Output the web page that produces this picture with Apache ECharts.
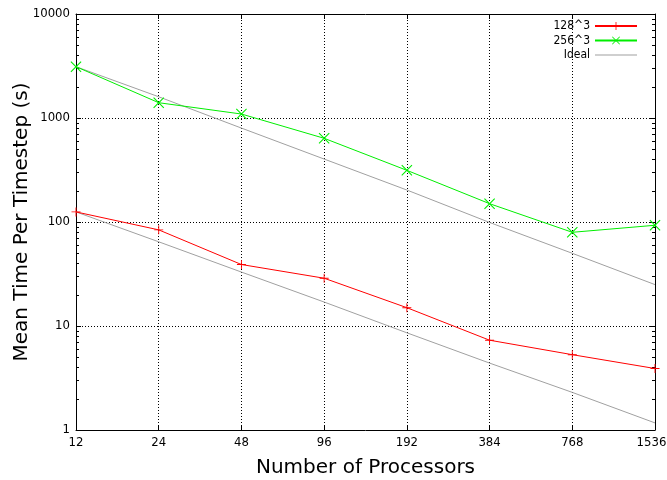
<!DOCTYPE html>
<html>
<head>
<meta charset="utf-8">
<script src="https://cdn.jsdelivr.net/npm/echarts@6/dist/echarts.min.js"></script>
<style>
  html, body { margin: 0; padding: 0; background: #fff; }
  #chart { width: 667px; height: 480px; }
</style>
</head>
<body>
<div id="chart"></div>
<script>
var processors = ['12', '24', '48', '96', '192', '384', '768', '1536'];
var time128 = [125, 84, 39, 28.8, 15, 7.3, 5.3, 3.9];
var time256 = [3115, 1403, 1092, 638, 314, 150, 79.6, 93];
var ideal256 = [3115, 1600, 800, 403, 203, 99, 50, 25];
var ideal128 = [125, 64.5, 33, 17, 8.6, 4.4, 2.3, 1.17];
var minorSteps = [2, 3, 4, 5, 6, 7, 8, 9];
var decades = [1, 10, 100, 1000];

var tickFont = "'DejaVu Sans Condensed', 'Liberation Sans Narrow', 'DejaVu Sans', sans-serif";
var titleFont = "'DejaVu Sans', sans-serif";

var plusPath = 'path://M4.5,0H5.5V4.5H10V5.5H5.5V10H4.5V5.5H0V4.5H4.5Z';
var crossPath = 'path://M0,0.7L0.7,0L5,4.3L9.3,0L10,0.7L5.7,5L10,9.3L9.3,10L5,5.7L0.7,10L0,9.3L4.3,5Z';
// thin bar; the two empty sub-paths only stretch the bounding box to the 42x10 legend icon
var flatPath = 'path://M0,0L0,0ZM42,10L42,10ZM0,4.5H42V5.5H0Z';

var chart = echarts.init(document.getElementById('chart'));

var axisLine = { show: true, lineStyle: { color: '#000', width: 1 } };
var gridLine = { show: true, interval: 0, lineStyle: { color: '#000', width: 1, type: [1, 2] } };

var option = {
  animation: false,
  grid: { left: 76, right: 12, top: 14, bottom: 50, outerBoundsMode: 'none', containLabel: false },
  legend: {
    data: [
      { name: '128^3' },
      { name: '256^3' },
      { name: 'Ideal', icon: flatPath, itemStyle: { color: '#a0a0a0', borderWidth: 0 }, lineStyle: { width: 0 } }
    ],
    orient: 'vertical',
    align: 'right',
    right: 29,
    top: 20,
    padding: 0,
    itemWidth: 42,
    itemHeight: 10,
    itemGap: 2.5,
    textStyle: { fontFamily: tickFont, fontSize: 12, lineHeight: 12, color: '#000' }
  },
  xAxis: [{
    type: 'category',
    data: processors,
    boundaryGap: false,
    name: 'Number of Processors',
    nameLocation: 'middle',
    nameGap: 28,
    nameMoveOverlap: false,
    nameTextStyle: { fontFamily: titleFont, fontSize: 20, color: '#000' },
    axisLine: axisLine,
    axisTick: { show: true, inside: true, length: 5, interval: 0, lineStyle: { color: '#000' } },
    axisLabel: {
      interval: 0,
      hideOverlap: false,
      fontFamily: tickFont, fontSize: 13, color: '#000', margin: 6,
      formatter: function (v, i) { return i === processors.length - 1 ? '{last|' + v + '}' : v; },
      rich: { last: { fontFamily: tickFont, fontSize: 13, color: '#000', padding: [0, 7, 0, 0] } }
    },
    splitLine: gridLine
  }, {
    type: 'category',
    data: processors,
    boundaryGap: false,
    position: 'top',
    axisLine: axisLine,
    axisTick: { show: true, inside: true, length: 5, interval: 0, lineStyle: { color: '#000' } },
    axisLabel: { show: false },
    splitLine: { show: false }
  }],
  yAxis: [{
    type: 'log',
    logBase: 10,
    min: 1,
    max: 10000,
    name: 'Mean Time Per Timestep (s)',
    nameLocation: 'middle',
    nameGap: 44,
    nameMoveOverlap: false,
    nameTextStyle: { fontFamily: titleFont, fontSize: 20, color: '#000' },
    axisLine: axisLine,
    axisTick: { show: true, inside: true, length: 5, lineStyle: { color: '#000' } },
    axisLabel: {
      fontFamily: tickFont, fontSize: 13, color: '#000', margin: 6,
      formatter: function (v) { return String(Math.round(v)); }
    },
    splitLine: gridLine
  }, {
    type: 'log',
    logBase: 10,
    min: 1,
    max: 10000,
    position: 'right',
    axisLine: axisLine,
    axisTick: { show: true, inside: true, length: 5, lineStyle: { color: '#000' } },
    axisLabel: { show: false },
    splitLine: { show: false }
  }],
  series: [{
    name: '128^3',
    type: 'line',
    data: time128,
    symbol: plusPath,
    symbolSize: 9,
    showAllSymbol: true,
    itemStyle: { color: '#ff0000' },
    lineStyle: { color: '#ff0000', width: 1 },
    z: 3
  }, {
    name: '256^3',
    type: 'line',
    data: time256,
    symbol: crossPath,
    symbolSize: 11,
    showAllSymbol: true,
    itemStyle: { color: '#00ee00' },
    lineStyle: { color: '#00ee00', width: 1 },
    z: 3
  }, {
    name: 'Ideal',
    type: 'line',
    data: ideal256,
    symbol: 'none',
    itemStyle: { color: '#a0a0a0' },
    lineStyle: { color: '#a0a0a0', width: 1 },
    z: 2
  }, {
    name: 'Ideal',
    type: 'line',
    data: ideal128,
    symbol: 'none',
    itemStyle: { color: '#a0a0a0' },
    lineStyle: { color: '#a0a0a0', width: 1 },
    z: 2
  }]
};

chart.setOption(option);

// minor ticks on the log axis (2..9 in each decade), both sides
var xLeft = chart.convertToPixel({ xAxisIndex: 0 }, 0);
var xRight = chart.convertToPixel({ xAxisIndex: 0 }, processors.length - 1);
var minor = [];
decades.forEach(function (d) {
  minorSteps.forEach(function (k) {
    var y = Math.round(chart.convertToPixel({ yAxisIndex: 0 }, d * k)) + 0.5;
    minor.push({ type: 'line', shape: { x1: xLeft, y1: y, x2: xLeft + 3, y2: y }, style: { stroke: '#000', lineWidth: 1 }, silent: true });
    minor.push({ type: 'line', shape: { x1: xRight - 3, y1: y, x2: xRight, y2: y }, style: { stroke: '#000', lineWidth: 1 }, silent: true });
  });
});
chart.setOption({ graphic: minor });
</script>
</body>
</html>
